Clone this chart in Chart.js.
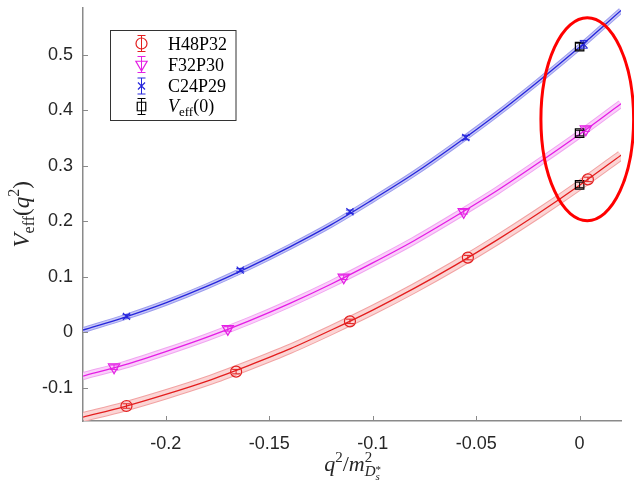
<!DOCTYPE html>
<html lang="en">
  <head>
    <meta charset="UTF-8" />
    <title>Veff(q2)</title>
    <style>
      html, body { margin: 0; padding: 0; background: #fff; }
      #wrap { width: 634px; height: 489px; }
    </style>
    <script src="https://cdn.jsdelivr.net/npm/chart.js"></script>
  </head>
  <body>
    <div id="wrap"><canvas id="veffChart" width="634" height="489"></canvas></div>
    <script>
      //! data
      const xTicks = [-0.2, -0.15, -0.1, -0.05, 0];
      const yTicks = [-0.1, 0, 0.1, 0.2, 0.3, 0.4, 0.5];

      // fit curves (central values)
      const curveX = [-0.24, -0.22, -0.2, -0.18, -0.16, -0.14, -0.12, -0.1, -0.08, -0.06, -0.04, -0.02, 0, 0.02];
      const curveH48 = [-0.153, -0.134, -0.112, -0.088, -0.06, -0.03, 0.004, 0.04, 0.079, 0.121, 0.166, 0.214, 0.265, 0.319];
      const curveF32 = [-0.079, -0.059, -0.035, -0.009, 0.02, 0.052, 0.087, 0.125, 0.165, 0.209, 0.255, 0.305, 0.357, 0.412];
      const curveC24 = [0.004, 0.027, 0.053, 0.083, 0.117, 0.154, 0.194, 0.239, 0.286, 0.338, 0.393, 0.452, 0.514, 0.58];

      // lattice points with error bars
      const xH48 = [-0.219, -0.166, -0.111, -0.054, 0.004];
      const yH48 = [-0.133, -0.071, 0.0196, 0.1345, 0.2755];
      const eH48 = [0.004, 0.004, 0.004, 0.004, 0.004];

      const xF32 = [-0.225, -0.17, -0.114, -0.056, 0.003];
      const yF32 = [-0.063, 0.006, 0.099, 0.217, 0.366];
      const eF32 = [0.004, 0.004, 0.004, 0.004, 0.004];

      const xC24 = [-0.219, -0.164, -0.111, -0.055, 0.002];
      const yC24 = [0.0286, 0.112, 0.2173, 0.351, 0.519];
      const eC24 = [0.003, 0.003, 0.003, 0.004, 0.007];

      const xV0 = [0, 0, 0];
      const yV0 = [0.515, 0.359, 0.2655];
      const eV0 = [0.006, 0.005, 0.005];

      const legendNames = ["H48P32", "F32P30", "C24P29"];

      // highlighted region (data units)
      const ringCenter = { x: 0.0037, y: 0.384 };
      const ringRadius = { x: 0.0224, y: 0.183 };

      const SERIF = '"Liberation Serif", "DejaVu Serif", serif';
      const SANS = '"Liberation Sans", Arial, sans-serif';
      const AXIS_GRAY = "#8a8a8a";

      const pts = (xs, ys) => xs.map((x, i) => ({ x: x, y: ys[i] }));

      function curveSets(ys, line, fill, edge, bandW) {
        const d = pts(curveX, ys);
        const base = { type: "line", data: d, pointRadius: 0, cubicInterpolationMode: "monotone", fill: false };
        return [
          Object.assign({}, base, { borderColor: edge, borderWidth: bandW + 2, order: 3 }),
          Object.assign({}, base, { borderColor: fill, borderWidth: bandW, order: 2 }),
          Object.assign({}, base, { borderColor: line, borderWidth: 1.3, order: 1 }),
        ];
      }

      function markerSet(xs, ys, errs, color, style, radius, rot) {
        return {
          type: "scatter",
          data: pts(xs, ys),
          errs: errs,
          borderColor: color,
          backgroundColor: "rgba(0,0,0,0)",
          pointStyle: style,
          pointRadius: radius,
          rotation: rot || 0,
          borderWidth: 1.2,
          order: 0,
        };
      }

      const RED = "#e31e1e", MAG = "#e41ee4", BLUE = "#2626dc", BLACK = "#000000";

      const datasets = [].concat(
        curveSets(curveH48, RED, "#fbd5d5", "#f2a3a3", 8),
        curveSets(curveF32, MAG, "#fbcffb", "#f0a6f0", 6),
        curveSets(curveC24, BLUE, "#c8c8f6", "#9c9cee", 4),
        [
          markerSet(xH48, yH48, eH48, RED, "circle", 5.5),
          markerSet(xF32, yF32, eF32, MAG, "triangle", 6.5, 180),
          markerSet(xC24, yC24, eC24, BLUE, "crossRot", 5),
          markerSet(xV0, yV0, eV0, BLACK, "rect", 6),
        ]
      );

      function fontOf(p) {
        return (p.it ? "italic " : "") + p.size + "px " + SERIF;
      }

      function richText(ctx, parts, x, y, align) {
        let w = 0;
        parts.forEach((p) => {
          ctx.font = fontOf(p);
          p.w = ctx.measureText(p.t).width;
          if (p.adv !== false) w += p.w;
        });
        let cx = align === "center" ? x - w / 2 : x;
        parts.forEach((p) => {
          ctx.font = fontOf(p);
          ctx.fillText(p.t, cx, y + (p.dy || 0));
          if (p.adv !== false) cx += p.w;
        });
      }

      function errorBar(ctx, x, yTop, yBot, cap) {
        ctx.beginPath();
        ctx.moveTo(x, yTop);
        ctx.lineTo(x, yBot);
        ctx.moveTo(x - cap / 2, yTop);
        ctx.lineTo(x + cap / 2, yTop);
        ctx.moveTo(x - cap / 2, yBot);
        ctx.lineTo(x + cap / 2, yBot);
        ctx.stroke();
      }

      const decor = {
        id: "decor",
        afterDatasetsDraw(chart) {
          const ctx = chart.ctx;
          const ys = chart.scales.y;
          ctx.save();
          ctx.lineWidth = 1;
          chart.data.datasets.forEach((ds, i) => {
            if (!ds.errs) return;
            const meta = chart.getDatasetMeta(i);
            ctx.strokeStyle = ds.borderColor;
            meta.data.forEach((el, j) => {
              const v = ds.data[j].y;
              errorBar(ctx, el.x, ys.getPixelForValue(v + ds.errs[j]), ys.getPixelForValue(v - ds.errs[j]), 8);
            });
          });
          ctx.restore();
        },
        afterDraw(chart) {
          const ctx = chart.ctx;
          const xs = chart.scales.x, ys = chart.scales.y;
          const area = chart.chartArea;
          ctx.save();

          // inward tick marks
          ctx.strokeStyle = AXIS_GRAY;
          ctx.lineWidth = 1;
          ctx.beginPath();
          xTicks.forEach((v) => {
            const px = Math.round(xs.getPixelForValue(v)) + 0.5;
            ctx.moveTo(px, area.bottom);
            ctx.lineTo(px, area.bottom - 5);
          });
          yTicks.forEach((v) => {
            const py = Math.round(ys.getPixelForValue(v)) + 0.5;
            ctx.moveTo(area.left, py);
            ctx.lineTo(area.left + 5, py);
          });
          ctx.stroke();

          // axis titles
          ctx.fillStyle = "#262626";
          ctx.textBaseline = "alphabetic";
          richText(ctx, [
            { t: "q", it: true, size: 22 },
            { t: "2", size: 15, dy: -9 },
            { t: "/", size: 22 },
            { t: "m", it: true, size: 22 },
            { t: "2", size: 15, dy: -9, adv: false },
            { t: "D", it: true, size: 15, dy: 5 },
            { t: "*", size: 11, dy: 2, adv: false },
            { t: "s", it: true, size: 11, dy: 9 },
          ], (area.left + area.right) / 2, 471, "center");

          ctx.save();
          ctx.translate(29, (area.top + area.bottom) / 2);
          ctx.rotate(-Math.PI / 2);
          richText(ctx, [
            { t: "V", it: true, size: 23 },
            { t: "eff", size: 16, dy: 5 },
            { t: "(", size: 23 },
            { t: "q", it: true, size: 23 },
            { t: "2", size: 16, dy: -10 },
            { t: ")", size: 23 },
          ], 0, 0, "center");
          ctx.restore();

          // legend
          ctx.fillStyle = "#ffffff";
          ctx.fillRect(110.5, 30.5, 125.5, 90);
          ctx.strokeStyle = "#333333";
          ctx.lineWidth = 1;
          ctx.strokeRect(110.5, 30.5, 125.5, 90);
          const rows = [43.5, 64.5, 86, 106.5];
          const mk = chart.data.datasets.filter((d) => d.errs);
          mk.forEach((ds, k) => {
            const cy = rows[k], cx = 141.5;
            ctx.strokeStyle = ds.borderColor;
            ctx.lineWidth = 1;
            errorBar(ctx, cx, cy - 8, cy + 8, 8);
            ctx.fillStyle = "rgba(0,0,0,0)";
            ctx.lineWidth = 1.2;
            Chart.helpers.drawPoint(ctx, {
              pointStyle: ds.pointStyle,
              rotation: ds.rotation,
              radius: ds.pointRadius,
              borderWidth: 1.2,
            }, cx, cy);
            ctx.fillStyle = "#000000";
            if (k < 3) {
              richText(ctx, [{ t: legendNames[k], size: 18 }], 168, cy + 6, "left");
            } else {
              richText(ctx, [
                { t: "V", it: true, size: 18 },
                { t: "eff", size: 13, dy: 4 },
                { t: "(0)", size: 18 },
              ], 168, cy + 5, "left");
            }
          });

          // red ring
          ctx.strokeStyle = "#ff0000";
          ctx.lineWidth = 3;
          const ecx = xs.getPixelForValue(ringCenter.x);
          const ecy = ys.getPixelForValue(ringCenter.y);
          const erx = xs.getPixelForValue(ringCenter.x + ringRadius.x) - ecx;
          const ery = ecy - ys.getPixelForValue(ringCenter.y + ringRadius.y);
          ctx.beginPath();
          ctx.ellipse(ecx, ecy, erx, ery, 0, 0, Math.PI * 2);
          ctx.stroke();
          ctx.restore();
        },
      };

      const ctx = document.getElementById("veffChart").getContext("2d");
      const veffChart = new Chart(ctx, {
        type: "scatter",
        data: { datasets: datasets },
        options: {
          responsive: false,
          animation: false,
          layout: { padding: { left: 0, top: 4, right: 13, bottom: 0 } },
          plugins: { legend: { display: false }, tooltip: { enabled: false } },
          scales: {
            x: {
              type: "linear",
              min: -0.24,
              max: 0.02,
              grid: { display: false, drawTicks: false },
              border: { display: true, color: AXIS_GRAY, width: 1.5 },
              ticks: {
                font: { family: SANS, size: 18 },
                color: "#262626",
                padding: 12,
                maxRotation: 0,
                autoSkip: false,
                callback: (v) => String(v),
              },
              afterBuildTicks: (s) => { s.ticks = xTicks.map((v) => ({ value: v })); },
              afterFit: (s) => { s.height = 68; s.paddingLeft = 0; s.paddingRight = 0; },
            },
            y: {
              type: "linear",
              min: -0.16,
              max: 0.585,
              grid: { display: false, drawTicks: false },
              border: { display: true, color: AXIS_GRAY, width: 1.5 },
              ticks: {
                font: { family: SANS, size: 18 },
                color: "#262626",
                padding: 10,
                autoSkip: false,
                callback: (v) => String(v),
              },
              afterBuildTicks: (s) => { s.ticks = yTicks.map((v) => ({ value: v })); },
              afterFit: (s) => { s.width = 83; s.paddingTop = 0; s.paddingBottom = 0; },
            },
          },
        },
        plugins: [decor],
      });
    </script>
  </body>
</html>
